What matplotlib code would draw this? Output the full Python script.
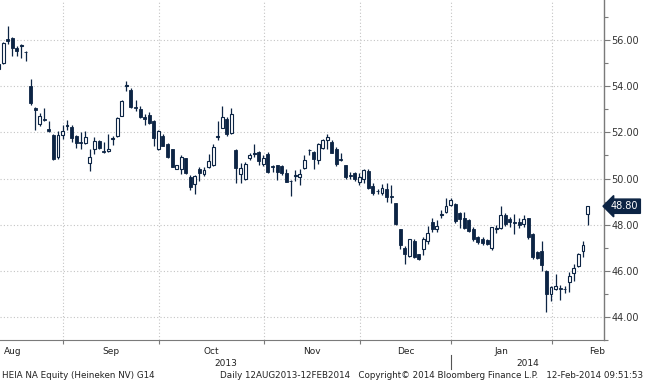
import matplotlib
matplotlib.use("Agg")
import matplotlib.pyplot as plt
import matplotlib.transforms as mtransforms
import numpy as np

# daily OHLC, HEIA NA, 12 Aug 2013 - 12 Feb 2014
opens = [
    54.75, 55.00, 56.05, 56.08, 55.65, 55.75, 55.50, 54.03, 53.06, 52.38,
    52.60, 52.13, 51.90, 50.95, 51.90, 52.28, 52.24, 51.84, 51.60, 51.55,
    50.69, 51.26, 51.62, 51.20, 51.18, 51.72, 51.84, 52.70, 54.00, 53.83,
    53.10, 53.02, 52.65, 52.77, 52.48, 51.26, 51.84, 51.48, 51.26, 50.43,
    50.40, 50.87, 50.08, 49.75, 50.43, 50.18, 50.50, 50.58, 51.78, 52.20,
    52.60, 51.98, 51.22, 50.18, 49.99, 50.87, 51.08, 51.16, 50.61, 51.08,
    50.55, 50.57, 50.55, 50.25, 49.90, 50.13, 50.07, 50.47, 51.25, 51.16,
    50.79, 51.33, 51.65, 51.60, 51.26, 50.85, 50.58, 50.17, 50.25, 49.87,
    49.96, 50.32, 49.68, 49.48, 49.39, 49.53, 49.23, 48.92, 47.80, 46.97,
    46.65, 47.30, 46.72, 46.94, 47.30, 48.12, 47.80, 48.40, 48.55, 48.84,
    48.89, 48.50, 48.27, 48.19, 47.83, 47.45, 47.37, 47.34, 46.97, 47.83,
    47.84, 48.42, 48.24, 48.10, 48.10, 48.02, 48.28, 47.59, 46.80, 46.86,
    46.00, 45.00, 45.20, 45.25, 45.22, 45.50, 45.90, 46.22, 46.84, 48.48,
]
highs = [
    55.15, 55.90, 56.60, 56.15, 55.75, 55.85, 55.55, 54.32, 53.10, 52.85,
    53.07, 52.50, 51.95, 52.05, 52.30, 52.55, 52.30, 51.88, 52.00, 52.05,
    51.26, 51.80, 51.65, 51.60, 51.91, 51.85, 52.65, 53.40, 54.24, 53.93,
    53.42, 53.16, 52.80, 52.90, 52.52, 52.10, 51.95, 51.55, 51.30, 50.60,
    51.00, 50.90, 50.15, 50.15, 50.50, 50.50, 51.08, 51.50, 52.48, 53.13,
    52.65, 53.06, 51.27, 50.69, 50.70, 51.10, 51.51, 51.20, 51.00, 51.15,
    50.60, 50.60, 50.60, 50.40, 49.95, 50.35, 50.40, 51.04, 51.30, 51.20,
    51.55, 51.70, 51.91, 51.65, 51.35, 51.10, 50.60, 50.30, 50.30, 50.25,
    50.40, 50.40, 49.80, 49.55, 49.75, 49.80, 49.70, 48.95, 47.82, 47.06,
    47.40, 47.40, 46.75, 47.45, 47.95, 48.31, 48.22, 48.64, 49.17, 49.15,
    48.95, 48.55, 48.53, 48.25, 47.90, 47.50, 47.45, 47.40, 47.90, 48.00,
    48.81, 48.50, 48.35, 48.45, 48.30, 48.40, 48.30, 47.65, 46.85, 47.30,
    46.05, 45.35, 45.86, 45.40, 45.35, 45.94, 46.30, 46.78, 47.30, 48.82,
]
lows = [
    54.64, 54.98, 55.85, 55.30, 55.30, 55.22, 55.10, 53.20, 52.12, 52.27,
    52.50, 52.00, 50.80, 50.83, 51.70, 52.10, 51.60, 51.33, 51.30, 51.50,
    50.32, 51.05, 51.30, 51.10, 51.15, 51.45, 51.80, 52.70, 53.78, 53.05,
    52.92, 52.64, 52.30, 52.37, 51.40, 51.25, 51.40, 50.90, 50.50, 50.40,
    50.18, 50.20, 49.50, 49.35, 49.90, 50.10, 50.45, 50.55, 51.69, 52.18,
    51.85, 51.95, 49.82, 49.82, 49.95, 50.80, 50.95, 50.60, 50.55, 50.25,
    50.30, 49.95, 50.15, 49.85, 49.25, 49.90, 49.70, 50.40, 51.00, 50.40,
    50.65, 51.30, 51.30, 51.10, 50.55, 50.75, 50.00, 49.98, 49.90, 49.70,
    49.80, 49.55, 49.30, 49.35, 49.30, 49.00, 48.95, 48.00, 46.94, 46.30,
    46.60, 46.55, 46.45, 46.70, 47.16, 47.70, 47.70, 48.31, 48.50, 48.80,
    48.08, 47.85, 47.80, 47.70, 47.30, 47.15, 47.10, 47.10, 46.90, 47.65,
    47.80, 47.95, 47.90, 47.60, 47.85, 47.90, 47.40, 46.50, 46.50, 46.00,
    44.20, 44.71, 45.15, 44.74, 45.05, 45.07, 45.55, 46.15, 46.58, 47.99,
]
closes = [
    54.98, 55.87, 55.98, 55.65, 55.52, 55.78, 55.47, 53.28, 52.96, 52.70,
    52.53, 52.05, 50.83, 51.90, 52.05, 52.32, 51.77, 51.55, 51.52, 51.81,
    50.93, 51.62, 51.33, 51.15, 51.27, 51.75, 52.63, 53.35, 54.07, 53.10,
    53.05, 52.67, 52.60, 52.41, 51.77, 52.05, 51.43, 50.95, 50.51, 50.57,
    50.95, 50.22, 49.65, 50.11, 50.22, 50.37, 50.76, 51.36, 51.84, 52.66,
    51.94, 52.80, 50.44, 50.44, 50.64, 51.00, 51.12, 50.76, 50.90, 50.30,
    50.50, 50.30, 50.25, 49.87, 49.88, 50.15, 50.21, 50.79, 51.22, 50.83,
    51.48, 51.65, 51.79, 51.12, 50.61, 50.80, 50.06, 50.12, 49.96, 50.06,
    50.35, 49.60, 49.39, 49.45, 49.60, 49.20, 49.20, 48.02, 47.13, 46.73,
    47.37, 46.58, 46.50, 47.37, 47.66, 47.80, 47.95, 48.45, 48.81, 49.07,
    48.16, 48.24, 47.84, 47.73, 47.37, 47.26, 47.20, 47.16, 47.88, 47.86,
    48.41, 48.02, 48.10, 48.08, 47.99, 48.24, 47.45, 46.58, 46.55, 46.26,
    45.00, 45.29, 45.35, 45.23, 45.20, 45.79, 46.12, 46.72, 47.13, 48.80,
]

# trading-day index of the first session of Aug, Sep, ... Mar
month_starts = [-7, 15, 36, 59, 80, 100, 122, 142]
month_names = ["Aug", "Sep", "Oct", "Nov", "Dec", "Jan", "Feb"]
years = ["2013", "2014"]
last_price = 48.80

NAVY = "#0c2444"
GRID = "#c4c4c4"
AXIS = "#7a7a7a"
TEXT = "#222222"

o = np.array(opens)
h = np.array(highs)
l = np.array(lows)
c = np.array(closes)
idx = np.arange(len(o))

fig = plt.figure(figsize=(6.45, 3.8), dpi=100)
ax = fig.add_axes([0.0, 40 / 380, 603.5 / 645, 340 / 380])

x_left, x_right = 0.31, 132.5
ax.set_xlim(x_left, x_right)
ax.set_ylim(43.05, 57.74)

# grid
for v in range(44, 57, 2):
    ax.axhline(v, color=GRID, lw=0.8, ls=(0, (1, 2)), zorder=0)
grid_x = [s - 0.8 for s in month_starts]
for gx in grid_x[1:-1]:
    ax.axvline(gx, color=GRID, lw=0.8, ls=(0, (1, 2)), zorder=0)

# candles
ax.vlines(idx, l, h, color=NAVY, lw=0.9, zorder=2)
up = c >= o
bottom = np.minimum(o, c)
height = np.maximum(np.abs(c - o), 0.03)
ax.bar(idx[~up], height[~up], bottom=bottom[~up], width=0.66,
       color=NAVY, edgecolor=NAVY, lw=0.6, zorder=3)
ax.bar(idx[up], height[up], bottom=bottom[up], width=0.62,
       color="white", edgecolor=NAVY, lw=0.8, zorder=3)

# axes styling
for side in ["top", "left"]:
    ax.spines[side].set_visible(False)
ax.spines["right"].set_color(AXIS)
ax.spines["bottom"].set_color(AXIS)
ax.spines["right"].set_linewidth(1.0)
ax.spines["bottom"].set_linewidth(0.8)

ax.yaxis.tick_right()
ax.set_yticks(range(44, 57, 2))
ax.set_yticks(range(43, 58, 1), minor=True)
ax.set_yticklabels([f"{v:.2f}" for v in range(44, 57, 2)])
ax.tick_params(axis="y", which="major", direction="out", length=4, width=0.8,
               color=AXIS, labelsize=7, labelcolor="#333333", pad=1.5)
ax.tick_params(axis="y", which="minor", direction="out", length=3, width=0.8,
               color=AXIS)
ax.set_xticks(grid_x[1:-1])
ax.set_xticklabels([])
ax.tick_params(axis="x", direction="out", length=3, width=0.8, color=AXIS)

# month and year labels
xt = ax.get_xaxis_transform()
for k, name in enumerate(month_names):
    mid = (grid_x[k] + grid_x[k + 1]) / 2
    ax.text(mid, -11 / 340, name, transform=xt, ha="center", va="center",
            fontsize=6.5, color=TEXT, clip_on=False)
year_break = grid_x[5]
ax.text((x_left + year_break) / 2, -23 / 340, years[0], transform=xt,
        ha="center", va="center", fontsize=6.5, color=TEXT)
ax.text((year_break + x_right) / 2, -23 / 340, years[1], transform=xt,
        ha="center", va="center", fontsize=6.5, color=TEXT)
ax.plot([year_break, year_break], [-15 / 340, -29 / 340], transform=xt,
        color="#555555", lw=0.8, clip_on=False)

# last price tag
yt = mtransforms.blended_transform_factory(ax.transAxes, ax.transData)
ax.text(1.012, last_price, f"{last_price:.2f}", transform=yt, ha="left",
        va="center", fontsize=7, color="white",
        bbox=dict(boxstyle="larrow,pad=0.22", fc=NAVY, ec=NAVY))

# footer
fig.text(2 / 645, 1 - 375 / 380, "HEIA NA Equity (Heineken NV) G14",
         ha="left", va="center", fontsize=6.3, color=TEXT)
fig.text(643 / 645, 1 - 375 / 380,
         "Daily 12AUG2013-12FEB2014   Copyright\u00a9 2014 Bloomberg Finance L.P.   12-Feb-2014 09:51:53",
         ha="right", va="center", fontsize=6.3, color=TEXT)

fig.savefig("out.png", dpi=100)
